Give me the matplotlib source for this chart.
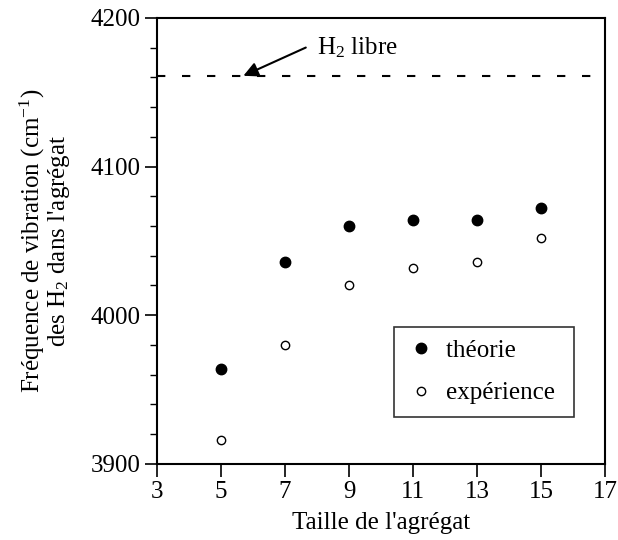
import matplotlib
matplotlib.use("Agg")
import matplotlib.pyplot as plt
from matplotlib.ticker import MultipleLocator

# données
taille = [5, 7, 9, 11, 13, 15]
theorie = [3964, 4036, 4060, 4064, 4064, 4072]
experience = [3916, 3980, 4020, 4032, 4036, 4052]
h2_libre = 4161

plt.rcParams['font.family'] = ['Liberation Serif', 'DejaVu Serif']
plt.rcParams['mathtext.fontset'] = 'custom'
plt.rcParams['mathtext.rm'] = 'Liberation Serif'
plt.rcParams['mathtext.it'] = 'Liberation Serif:italic'
plt.rcParams['font.size'] = 18

fig = plt.figure(figsize=(6.18, 5.4), dpi=100)
ax = fig.add_axes([0.254, 0.141, 0.725, 0.826])

# ligne H2 libre
ax.axhline(h2_libre, color='black', linestyle=(0, (4, 8)), linewidth=1.5)
ax.plot(taille, theorie, 'o', color='black', markersize=7.5, label='théorie ')
ax.plot(taille, experience, 'o', markerfacecolor='white', markeredgecolor='black',
        markeredgewidth=1.0, markersize=6, label='expérience ')

ax.annotate('', xy=(5.7, h2_libre), xytext=(7.65, 4180),
            arrowprops=dict(arrowstyle='-|>', color='black', lw=1.5,
                            mutation_scale=22, shrinkA=0, shrinkB=0))
ax.text(8.0, 4180, 'H$_2$ libre', va='center', ha='left')

ax.set_xlim(3, 17)
ax.set_ylim(3900, 4200)
ax.set_xticks(range(3, 18, 2))
ax.set_yticks([3900, 4000, 4100, 4200])
ax.yaxis.set_minor_locator(MultipleLocator(20))
ax.tick_params(axis='both', which='major', direction='out', length=9, width=1.2, pad=3)
ax.tick_params(axis='y', which='minor', direction='out', length=5, width=1.0)
for s in ax.spines.values():
    s.set_linewidth(1.5)

ax.set_xlabel("Taille de l'agrégat", labelpad=7)
ax.set_ylabel("Fréquence de vibration (cm$^{-1}$)\ndes H$_2$ dans l'agrégat",
              labelpad=13, linespacing=0.95)

leg = ax.legend(loc='upper left', bbox_to_anchor=(0.529, 0.307), borderaxespad=0,
                frameon=True, fancybox=False, edgecolor='black', handletextpad=0.4,
                labelspacing=0.8, borderpad=0.5, handlelength=1.2)
leg.get_frame().set_linewidth(1.2)

fig.savefig('out.png', dpi=100)
